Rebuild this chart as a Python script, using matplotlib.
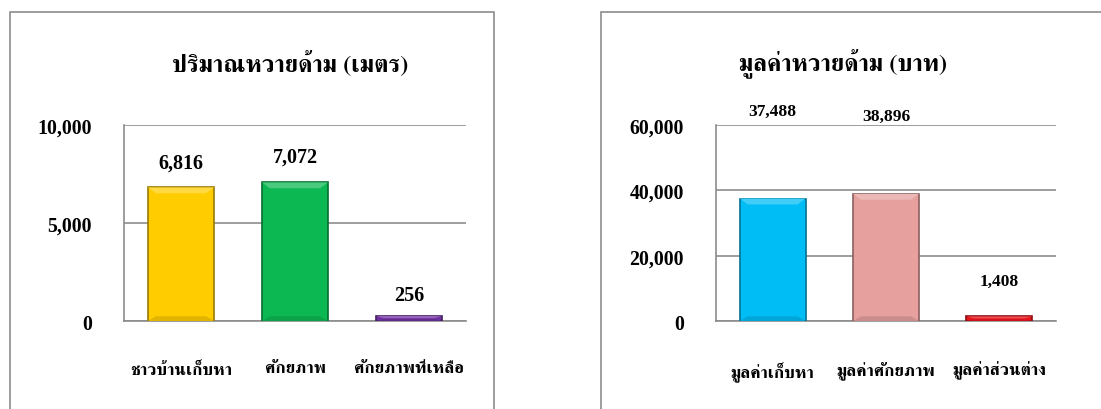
import matplotlib
matplotlib.use('Agg')
from matplotlib import pyplot as plt
from matplotlib.patches import Rectangle, Polygon
import matplotlib.colors as mcolors

# data
cats_left = ['ชาวบ้านเก็บหา', 'ศักยภาพ', 'ศักยภาพที่เหลือ']
vals_left = [6816, 7072, 256]
colors_left = ['#FFCC00', '#0CB852', '#7030A0']

cats_right = ['มูลค่าเก็บหา', 'มูลค่าศักยภาพ', 'มูลค่าส่วนต่าง']
vals_right = [37488, 38896, 1408]
colors_right = ['#00BDF5', '#E6A09E', '#E8141C']

title_left = 'ปริมาณหวายด้าม (เมตร)'
title_right = 'มูลค่าหวายด้าม (บาท)'

num_font = ['Liberation Serif', 'DejaVu Serif']
thai_font = ['FreeSerif', 'Liberation Serif', 'DejaVu Sans']

fig = plt.figure(figsize=(11.01, 4.10), dpi=100)
W, H = 1101, 410

# panel borders
fig.patches.append(Rectangle((10 / W, -0.1), 484 / W, (397 + 41) / H, transform=fig.transFigure,
                             fill=False, edgecolor='#8C8C8C', linewidth=1.2))
fig.patches.append(Rectangle((601 / W, -0.1), 520 / W, (397 + 41) / H, transform=fig.transFigure,
                             fill=False, edgecolor='#8C8C8C', linewidth=1.2))


def shade(c, f):
    r, g, b = mcolors.to_rgb(c)
    if f < 1:
        return (r * f, g * f, b * f)
    return (r + (1 - r) * (f - 1), g + (1 - g) * (f - 1), b + (1 - b) * (f - 1))


def panel(rect, cats, vals, colors, ymax, step, title, tcx, lab_y, lab_size, cat_size):
    ax = fig.add_axes(rect)
    x = range(len(cats))
    bars = ax.bar(x, vals, width=0.58, color=colors, edgecolor=[shade(c, 0.6) for c in colors],
                  linewidth=1.2, zorder=3)
    ax.set_xlim(-0.5, len(cats) - 0.5)
    ax.set_ylim(0, ymax)
    # bevel: lighter band on top, darker at bottom
    for b, c in zip(bars, colors):
        x0, w, h = b.get_x(), b.get_width(), b.get_height()
        d = min(ymax * 0.03, h * 0.45)
        dx = w * 0.12
        ax.add_patch(Polygon([(x0, h), (x0 + w, h), (x0 + w - dx, h - d), (x0 + dx, h - d)],
                             closed=True, facecolor=shade(c, 1.25), edgecolor='none', zorder=4))
        ax.add_patch(Polygon([(x0, 0), (x0 + w, 0), (x0 + w - dx, d * 0.8), (x0 + dx, d * 0.8)],
                             closed=True, facecolor=shade(c, 0.88), edgecolor='none', zorder=4))
    ticks = list(range(0, ymax + 1, step))
    ax.set_yticks(ticks)
    ax.set_yticklabels(['{:,}'.format(t) for t in ticks], fontfamily=num_font,
                       fontweight='bold', fontsize=14.3)
    ax.set_xticks(list(x))
    ax.set_xticklabels(cats, fontfamily=thai_font, fontweight='bold', fontsize=cat_size)
    ax.tick_params(axis='both', length=0)
    ax.tick_params(axis='y', pad=23)
    ax.tick_params(axis='x', pad=28.5)
    ax.grid(axis='y', color='#8C8C8C', linewidth=1.2, zorder=0)
    for s in ['top', 'right']:
        ax.spines[s].set_visible(False)
    for s in ['left', 'bottom']:
        ax.spines[s].set_color('#8C8C8C')
        ax.spines[s].set_linewidth(1.2)
    for i, v in enumerate(vals):
        ax.text(i, lab_y[i], '{:,}'.format(v), ha='center', va='center', fontfamily=num_font,
                fontweight='bold', fontsize=lab_size)
    fig.text(tcx / W, 1 - 63 / H, title, ha='center', va='center', fontfamily=thai_font,
             fontweight='bold', fontsize=17.5)
    return ax


panel([124 / W, 1 - 322 / H, 342 / W, 196 / H], cats_left, vals_left, colors_left,
      10000, 5000, title_left, 290, [8100, 8400, 1350], 14.5, 12.5)
panel([716 / W, 1 - 322 / H, 340 / W, 196 / H], cats_right, vals_right, colors_right,
      60000, 20000, title_right, 843, [64300, 62700, 12400], 12.5, 12.5)

plt.savefig('out.png', dpi=100)
